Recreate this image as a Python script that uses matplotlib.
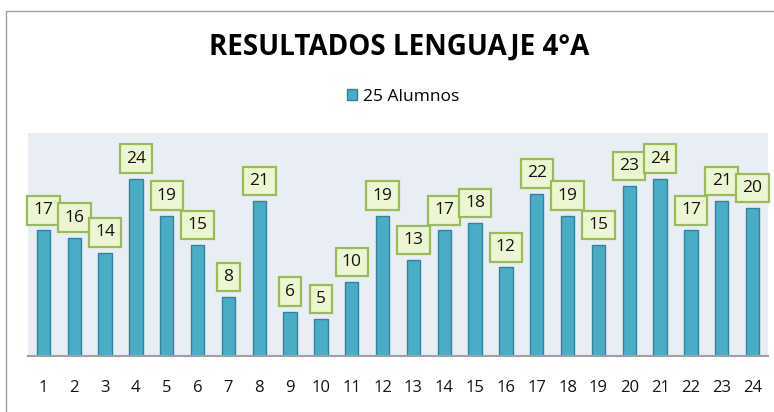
import matplotlib
matplotlib.use("Agg")
import matplotlib.pyplot as plt
from matplotlib.patches import Rectangle
import numpy as np

categories = [str(i) for i in range(1, 25)]
values = [17, 16, 14, 24, 19, 15, 8, 21, 6, 5, 10, 19, 13, 17, 18, 12, 22, 19, 15, 23, 24, 17, 21, 20]
series_name = "25 Alumnos"
title = "RESULTADOS LENGUAJE 4°A"

plt.rcParams['font.family'] = ['Open Sans', 'DejaVu Sans']

W, H = 774, 412
fig = plt.figure(figsize=(W / 100, H / 100), dpi=100)
fig.patch.set_facecolor('white')

# outer chart border
fig.add_artist(Rectangle((6 / W, -0.05), 1.2, (H - 11) / H + 0.05, transform=fig.transFigure,
                         fill=False, edgecolor='#A0A0A0', linewidth=1.0))

ax = fig.add_axes([28 / W, (H - 356) / H, 740 / W, (356 - 133) / H])
ax.set_facecolor('#E8EEF4')
x = np.arange(len(categories))
bars = ax.bar(x, values, width=0.43, color='#4BACC6', edgecolor='#31849B', linewidth=1.0,
              label=series_name, zorder=2)
ax.set_xlim(-0.5, len(categories) - 0.5)
ax.set_ylim(0, 30.2)
ax.set_xticks(x)
ax.set_xticklabels(categories, fontsize=12, color='#141414')
ax.tick_params(axis='x', length=0, pad=17)
ax.set_yticks([])
for s in ['left', 'right', 'top']:
    ax.spines[s].set_visible(False)
ax.spines['bottom'].set_color('#A0A0A0')
ax.spines['bottom'].set_linewidth(1.5)

for xi, v in zip(x, values):
    ax.annotate(str(v), (xi, v), xytext=(0, 14.5), textcoords='offset points',
                ha='center', va='center', fontsize=12.5, color='#141414', zorder=5,
                annotation_clip=False,
                bbox=dict(boxstyle='square,pad=0.36', facecolor='#EDF6D2',
                          edgecolor='#9BBB59', linewidth=1.6))

fig.text(399 / W, (H - 47) / H, title, ha='center', va='center', fontsize=20, fontweight='bold',
         color='black')
leg = fig.legend(handles=[bars], labels=[series_name], loc='center',
                 bbox_to_anchor=(403 / W, (H - 97) / H), frameon=False, fontsize=12.5,
                 handlelength=0.6, handleheight=0.6, handletextpad=0.3)

fig.savefig('out.png', dpi=100)
